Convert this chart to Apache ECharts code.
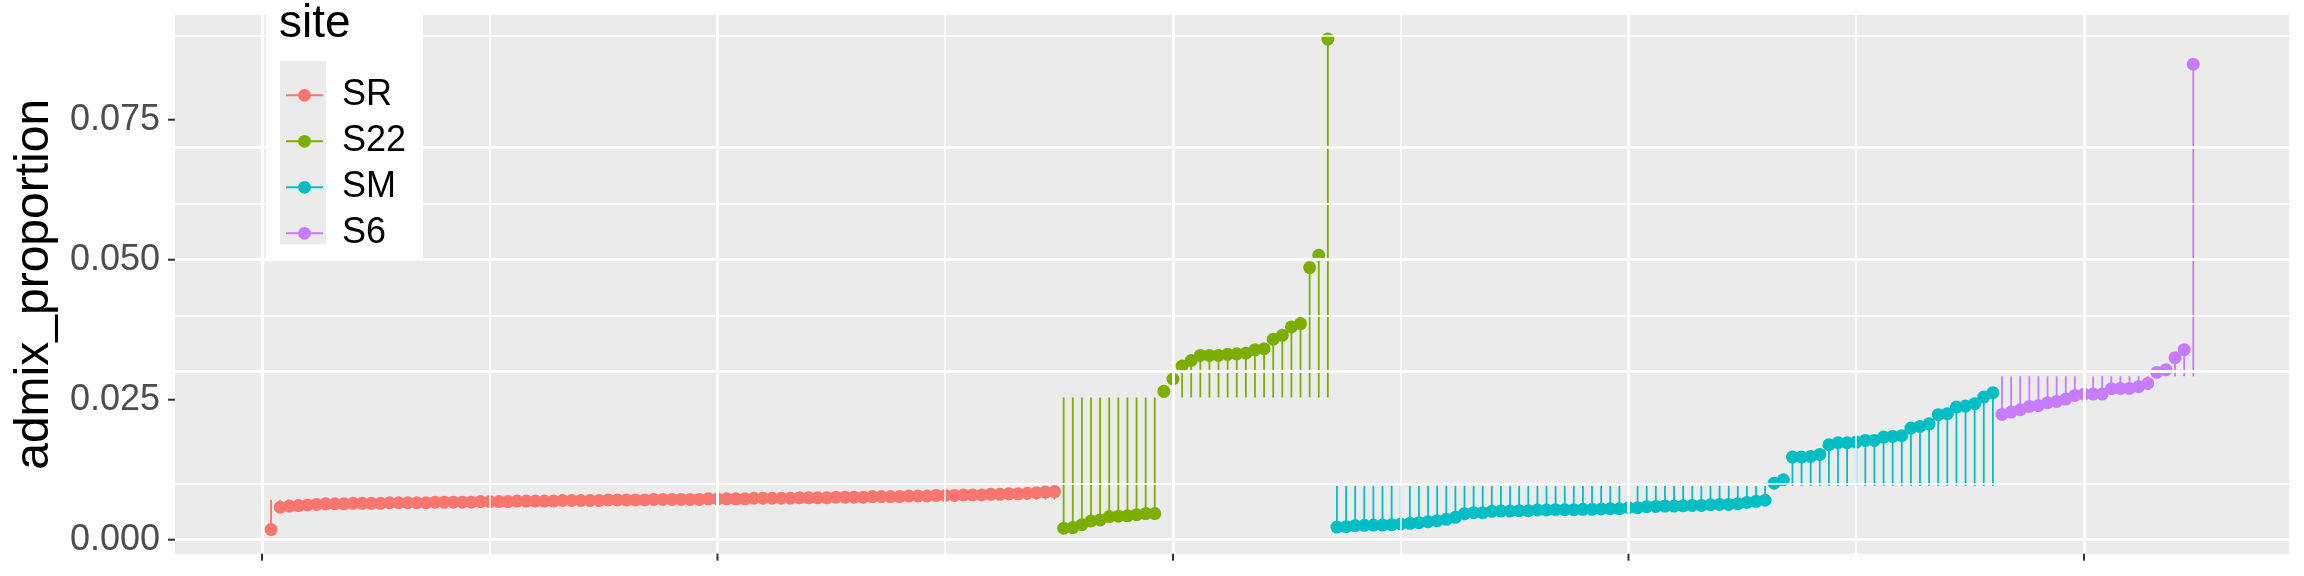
<!DOCTYPE html>
<html>
<head>
<meta charset="utf-8">
<script src="https://cdn.jsdelivr.net/npm/echarts@6/dist/echarts.min.js"></script>
<style>html,body{margin:0;padding:0;background:#fff;}#c{width:2304px;height:576px;}</style>
</head>
<body>
<div id="c"></div>
<script>
const sites = ['SR', 'S22', 'SM', 'S6'];
const siteColors = ['#F8766D', '#7CAE00', '#00BFC4', '#C77CFF'];

const srValues = [
  0.0018, 0.0058, 0.0060, 0.0061, 0.0062, 0.0063, 0.0064, 0.0064, 0.0064, 0.0065,
  0.0065, 0.0065, 0.0065, 0.0066, 0.0066, 0.0066, 0.0066, 0.0066, 0.0067, 0.0067,
  0.0067, 0.0067, 0.0067, 0.0068, 0.0068, 0.0068, 0.0068, 0.0069, 0.0069, 0.0069,
  0.0069, 0.0069, 0.0070, 0.0070, 0.0070, 0.0070, 0.0070, 0.0071, 0.0071, 0.0071,
  0.0071, 0.0071, 0.0072, 0.0072, 0.0072, 0.0072, 0.0072, 0.0072, 0.0073, 0.0073,
  0.0073, 0.0073, 0.0073, 0.0074, 0.0074, 0.0074, 0.0074, 0.0074, 0.0075, 0.0075,
  0.0075, 0.0075, 0.0076, 0.0076, 0.0076, 0.0076, 0.0077, 0.0077, 0.0077, 0.0077,
  0.0078, 0.0078, 0.0078, 0.0079, 0.0079, 0.0079, 0.0080, 0.0080, 0.0080, 0.0081,
  0.0081, 0.0082, 0.0082, 0.0083, 0.0084, 0.0085, 0.0086
];
const s22Values = [
  0.00204, 0.00216, 0.00269, 0.00334, 0.00354, 0.00413, 0.00420, 0.00427, 0.00447, 0.00466,
  0.00466, 0.0265, 0.0287, 0.0310, 0.0320, 0.0329, 0.0329, 0.0329, 0.0331, 0.0332,
  0.0333, 0.0339, 0.0341, 0.0358, 0.0365, 0.0380, 0.0386, 0.0486, 0.0508, 0.0894
];
const smValues = [
  0.00226, 0.00232, 0.00250, 0.00256, 0.00262, 0.00262, 0.00268, 0.00280, 0.00292, 0.00304,
  0.00321, 0.00339, 0.00363, 0.00399, 0.00464, 0.00482, 0.00482, 0.00506, 0.00512, 0.00512,
  0.00518, 0.00518, 0.00530, 0.00530, 0.00536, 0.00536, 0.00536, 0.00542, 0.00542, 0.00548,
  0.00553, 0.00553, 0.00571, 0.00571, 0.00589, 0.00595, 0.00600, 0.00600, 0.00606, 0.00612,
  0.00612, 0.00624, 0.00630, 0.00630, 0.00642, 0.00666, 0.00685, 0.00705, 0.0101, 0.0107,
  0.01475, 0.01475, 0.01488, 0.01523, 0.01696, 0.01732, 0.01732, 0.01744, 0.01773, 0.01773,
  0.01833, 0.01845, 0.01857, 0.01993, 0.02023, 0.02070, 0.02232, 0.02250, 0.02368, 0.02386,
  0.02428, 0.02547, 0.02625
];
const s6Values = [
  0.02238, 0.02279, 0.02321, 0.02380, 0.02393, 0.02446, 0.02470, 0.02511, 0.02577, 0.02600,
  0.02600, 0.02600, 0.02696, 0.02702, 0.02702, 0.02732, 0.02791, 0.02988, 0.03036, 0.03250,
  0.03393, 0.0849
];
// segment start level for each site (lollipop baseline)
const siteBaselines = [0.00714, 0.0254, 0.0096, 0.0292];

const xMajorTicks = [0, 50, 100, 150, 200];
const xMinorTicks = [25, 75, 125, 175];
const yMajorTicks = [0, 0.025, 0.05, 0.075];
const yMinorTicks = [0.0125, 0.0375, 0.0625, 0.0875];
const xRange = [-9.55, 222.55];
const yRange = [-0.0025, 0.0937];

const FONT = '"Liberation Sans", Arial, Helvetica, sans-serif';
const siteValues = [srValues, s22Values, smValues, s6Values];

// assign sequential sample index
let idx = 1;
const pointsBySite = siteValues.map(vals => vals.map(v => [idx++, v]));

const TICK_LEN = 7;
const series = [];
// grid lines drawn through the axes' scales
series.push({
  type: 'line', data: [], z: 1, silent: true, animation: false,
  markLine: {
    silent: true, symbol: 'none', animation: false, label: { show: false },
    data: [
      ...yMinorTicks.map(v => ({ yAxis: v, lineStyle: { color: '#ffffff', width: 1.5, type: 'solid' } })),
      ...xMinorTicks.map(v => ({ xAxis: v, lineStyle: { color: '#ffffff', width: 1.5, type: 'solid' } })),
      ...yMajorTicks.map(v => ({ yAxis: v, lineStyle: { color: '#ffffff', width: 3, type: 'solid' } })),
      ...xMajorTicks.map(v => ({ xAxis: v, lineStyle: { color: '#ffffff', width: 3, type: 'solid' } }))
    ]
  }
});

// axis tick marks (outside the panel), positioned via the axis scales
series.push({
  type: 'custom', z: 5, silent: true, animation: false, clip: false,
  data: yMajorTicks.map(v => [xRange[0], v]),
  renderItem: (params, api) => {
    const p = api.coord([api.value(0), api.value(1)]);
    return { type: 'line', shape: { x1: p[0] - TICK_LEN, y1: p[1], x2: p[0], y2: p[1] },
             style: { stroke: '#333333', lineWidth: 2 } };
  }
});
series.push({
  type: 'custom', z: 5, silent: true, animation: false, clip: false,
  data: xMajorTicks.map(v => [v, yRange[0]]),
  renderItem: (params, api) => {
    const p = api.coord([api.value(0), api.value(1)]);
    return { type: 'line', shape: { x1: p[0], y1: p[1], x2: p[0], y2: p[1] + TICK_LEN },
             style: { stroke: '#333333', lineWidth: 2 } };
  }
});

sites.forEach((s, i) => {
  const base = siteBaselines[i];
  series.push({
    type: 'custom', name: 'seg_' + s, z: 2, silent: true, animation: false,
    data: pointsBySite[i].map(p => [p[0], p[1], base]),
    renderItem: (params, api) => {
      const a = api.coord([api.value(0), api.value(2)]);
      const b = api.coord([api.value(0), api.value(1)]);
      return { type: 'line', shape: { x1: a[0], y1: a[1], x2: b[0], y2: b[1] },
               style: { stroke: siteColors[i], lineWidth: 1.8 } };
    }
  });
});

sites.forEach((s, i) => {
  series.push({
    type: 'line', name: s, z: 3, animation: false, silent: true,
    data: pointsBySite[i],
    symbol: 'circle', symbolSize: 13, showSymbol: true, showAllSymbol: true,
    color: siteColors[i],
    itemStyle: { color: siteColors[i], opacity: 1 },
    lineStyle: { width: 0, opacity: 0, color: siteColors[i] },
    emphasis: { disabled: true }
  });
});

const chart = echarts.init(document.getElementById('c'), null, { renderer: 'canvas' });
chart.setOption({
  animation: false,
  backgroundColor: '#ffffff',
  grid: { left: 175, right: 14.6, top: 15, bottom: 22.3, show: true, backgroundColor: '#EBEBEB', borderWidth: 0 },
  title: {
    text: 'site', left: 279, top: 1, padding: 0, z: 20,
    textStyle: { fontSize: 46, fontWeight: 'normal', color: '#000000', fontFamily: FONT }
  },
  legend: {
    data: sites, orient: 'vertical', left: 285, top: 75.3, padding: 0, z: 20,
    itemWidth: 37, itemHeight: 16, itemGap: 6,
    selectedMode: false,
    textStyle: { fontSize: 36, color: '#000000', fontFamily: FONT, lineHeight: 40, padding: [0, 0, 0, 14] },
    lineStyle: { width: 2, opacity: 1 },
    itemStyle: { opacity: 1 }
  },
  graphic: {
    elements: [
      { type: 'rect', shape: { x: 266, y: 0, width: 157, height: 258 }, style: { fill: '#ffffff' }, z: 10, silent: true },
      { type: 'rect', shape: { x: 280, y: 61, width: 46, height: 183.3 }, style: { fill: '#EBEBEB' }, z: 11, silent: true }
    ]
  },
  xAxis: {
    type: 'value', min: xRange[0], max: xRange[1],
    axisLine: { show: false },
    axisTick: { show: false },
    axisLabel: { show: false },
    splitLine: { show: false }
  },
  yAxis: {
    type: 'value', min: yRange[0], max: yRange[1],
    name: 'admix_proportion', nameLocation: 'middle', nameGap: 116,
    nameTextStyle: { fontSize: 48, color: '#000000', fontFamily: FONT },
    axisLine: { show: false },
    axisTick: { show: false },
    axisLabel: { show: true, customValues: yMajorTicks, margin: 15, fontSize: 36, color: '#4D4D4D', fontFamily: FONT,
                 formatter: v => v.toFixed(3) },
    splitLine: { show: false }
  },
  series: series
});
</script>
</body>
</html>
